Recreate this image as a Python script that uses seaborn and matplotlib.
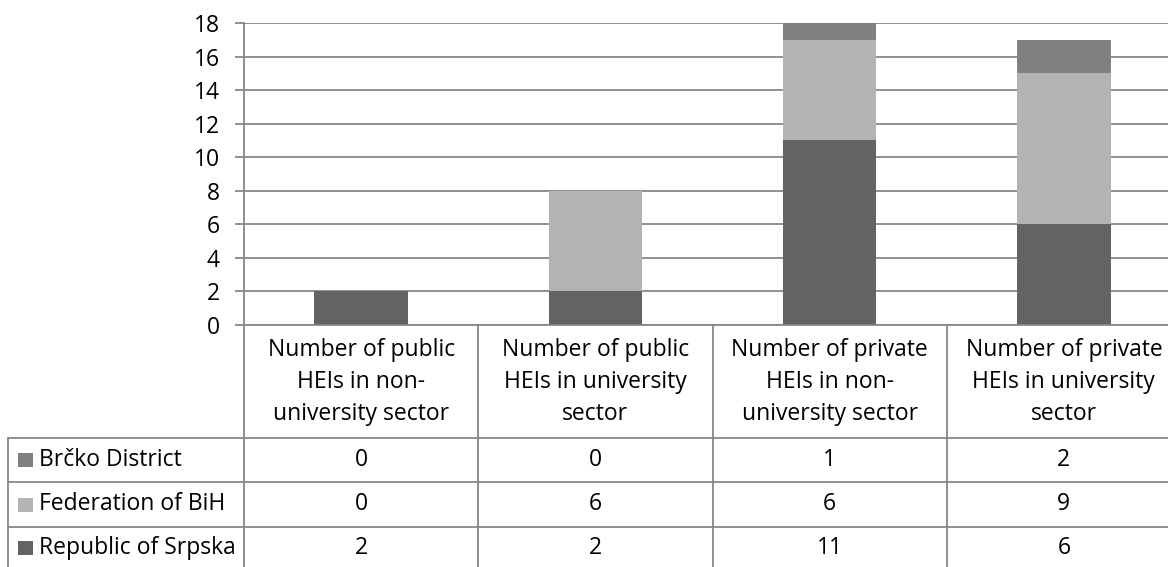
import matplotlib
matplotlib.use("Agg")
import matplotlib.pyplot as plt
import matplotlib.transforms as mtransforms
from matplotlib.lines import Line2D
from matplotlib.patches import Rectangle
import pandas as pd
import seaborn as sns

# ---- data ---------------------------------------------------------------
categories = [
    "Number of public\nHEIs in non-\nuniversity sector",
    "Number of public\nHEIs in university\nsector",
    "Number of private\nHEIs in non-\nuniversity sector",
    "Number of private\nHEIs in university\nsector",
]
republic_srpska = [2, 2, 11, 6]
federation_bih = [0, 6, 6, 9]
brcko_district = [0, 0, 1, 2]

series_names = ["Republic of Srpska", "Federation of BiH", "Brčko District"]  # bottom -> top
table_rows = ["Brčko District", "Federation of BiH", "Republic of Srpska"]   # table order
colors = {
    "Republic of Srpska": "#636363",
    "Federation of BiH": "#b3b3b3",
    "Brčko District": "#808080",
}
y_ticks = list(range(0, 19, 2))

df = pd.DataFrame({
    "category": categories,
    "Republic of Srpska": republic_srpska,
    "Federation of BiH": federation_bih,
    "Brčko District": brcko_district,
})

# ---- style --------------------------------------------------------------
sns.set_theme(style="white")
plt.rcParams["font.family"] = ["Open Sans", "DejaVu Sans"]
FS = 16.5
GRID = "#878787"

W, H = 1168, 567
fig = plt.figure(figsize=(W / 100, H / 100), dpi=100)


def fx(px):
    return px / W


def fy(py):
    return 1 - py / H


# plot area spans four equal columns; the last one runs past the right edge
ax = fig.add_axes([fx(244), fy(325), fx(1181) - fx(244), fy(23) - fy(325)])

# stacked bars: draw running totals, tallest first, so each layer shows its segment
cum = df[series_names].cumsum(axis=1)
for name in reversed(series_names):
    sns.barplot(x=df["category"], y=cum[name], order=categories, color=colors[name],
                saturation=1, width=0.4, linewidth=0, ax=ax)

ax.set_xlim(-0.5, 3.5)
ax.set_ylim(0, 18)
ax.set_yticks(y_ticks)
ax.set_xticks([])
ax.set_xlabel("")
ax.set_ylabel("")
ax.set_axisbelow(True)
ax.yaxis.grid(True, color=GRID, linewidth=1.3)
ax.xaxis.grid(False)
for side in ("top", "right"):
    ax.spines[side].set_visible(False)
for side in ("left", "bottom"):
    ax.spines[side].set_color(GRID)
    ax.spines[side].set_linewidth(1.3)
ax.tick_params(axis="y", left=True, direction="out", length=6.5, width=1.3,
               color=GRID, pad=11, labelsize=FS, labelcolor="black")
for t in ax.get_yticklabels():
    t.set_clip_on(False)

# ---- data table below the plot -----------------------------------------
blend = mtransforms.blended_transform_factory(ax.transData, fig.transFigure)
header_top, header_bottom = 325, 438
row_edges = [438, 482, 527, 572]


def hline(py, x0_px):
    fig.add_artist(Line2D([fx(x0_px), 1.0], [fy(py), fy(py)], color=GRID, lw=1.3))


for py in row_edges[:-1]:
    hline(py, 8)
# left border of the row-label column
fig.add_artist(Line2D([fx(8), fx(8)], [fy(header_bottom), 0], color=GRID, lw=1.3))
# column borders
for xv in [-0.5, 0.5, 1.5, 2.5]:
    fig.add_artist(Line2D([xv, xv], [fy(header_top), 0], transform=blend,
                          color=GRID, lw=1.3))

# header cells
line_y = [350, 382, 414]
for i, cat in enumerate(categories):
    for ly, part in zip(line_y, cat.split("\n")):
        fig.text(i, fy(ly), part, transform=blend, ha="center", va="center",
                 fontsize=FS, color="black")

# value rows
series_values = {
    "Republic of Srpska": republic_srpska,
    "Federation of BiH": federation_bih,
    "Brčko District": brcko_district,
}
for r, name in enumerate(table_rows):
    cy = (row_edges[r] + row_edges[r + 1]) / 2
    if r == 2:
        cy = 548
    fig.add_artist(Rectangle((fx(18), fy(cy + 7)), fx(15), fy(cy - 7) - fy(cy + 7),
                             facecolor=colors[name], edgecolor="none"))
    fig.text(fx(39), fy(cy), name, ha="left", va="center", fontsize=FS, color="black")
    for i, v in enumerate(series_values[name]):
        fig.text(i, fy(cy), str(v), transform=blend, ha="center", va="center",
                 fontsize=FS, color="black")

fig.savefig("out.png", dpi=100)
